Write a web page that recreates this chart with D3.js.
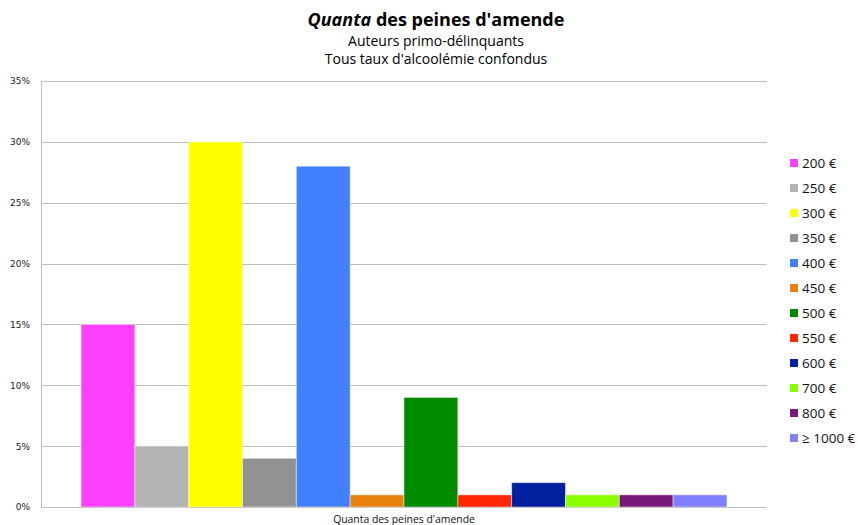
<!DOCTYPE html>
<html><head><meta charset="utf-8">
<script src="https://cdn.jsdelivr.net/npm/d3@7"></script>
<style>body{margin:0;background:#fff}svg{display:block}</style>
</head><body>
<script>
const categories = ["200 €","250 €","300 €","350 €","400 €","450 €","500 €","550 €","600 €","700 €","800 €","≥ 1000 €"];
const values = [15,5,30,4,28,1,9,1,2,1,1,1];
const colors = ["#ff40ff","#b3b3b3","#ffff00","#929292","#4280ff","#e8820c","#008a00","#ff2600","#00209f","#8aff00","#7a1a78","#8080ff"];
const yTicks = [0,5,10,15,20,25,30,35];
const groupLabel = "Quanta des peines d'amende";

const W=858,H=525;
const svg=d3.select("body").append("svg").attr("width",W).attr("height",H);
const m={l:41,r:767,t:81,b:507};
const y=d3.scaleLinear().domain([0,35]).range([m.b,m.t]);
const x0=d3.scaleBand().domain([groupLabel]).range([m.l,m.r]).paddingInner(0).paddingOuter(0.062);
const x=d3.scaleBand().domain(categories).range([x0(groupLabel),x0(groupLabel)+x0.bandwidth()]).padding(0);

// gridlines
svg.append("g").selectAll("line").data(yTicks).join("line")
 .attr("x1",m.l).attr("x2",m.r).attr("y1",d=>Math.round(y(d))+0.5).attr("y2",d=>Math.round(y(d))+0.5)
 .attr("stroke","#bdbdbd").attr("stroke-width",1);
svg.append("line").attr("x1",m.l+0.5).attr("x2",m.l+0.5).attr("y1",m.t).attr("y2",m.b).attr("stroke","#bdbdbd");

// y axis labels
const ya=d3.axisLeft(y).tickValues(yTicks).tickFormat(d=>d+"%").tickSize(0).tickPadding(11);
const gy=svg.append("g").attr("transform",`translate(${m.l},0)`).call(ya);
gy.select(".domain").remove();
gy.selectAll("text").attr("font-family","DejaVu Sans").attr("font-size",9).attr("fill","#222");

// bars
svg.append("g").selectAll("rect").data(categories).join("rect")
 .attr("x",d=>x(d)).attr("width",x.bandwidth())
 .attr("y",(d,i)=>y(values[i])).attr("height",(d,i)=>y(0)-y(values[i]))
 .attr("fill",(d,i)=>colors[i]).attr("stroke","rgba(255,255,255,0.45)").attr("stroke-width",1);

// x label
svg.append("text").attr("x",x0(groupLabel)+x0.bandwidth()/2).attr("y",523).attr("text-anchor","middle")
 .attr("font-family","Open Sans").attr("font-size",10.4).attr("fill","#111").text(groupLabel);

// title
const cx=436;
const t=svg.append("text").attr("x",cx).attr("y",26).attr("text-anchor","middle")
 .attr("font-family","Open Sans").attr("font-size",18).attr("font-weight","bold").attr("fill","#000");
t.append("tspan").attr("font-style","italic").text("Quanta");
t.append("tspan").text(" des peines d'amende");
svg.append("text").attr("x",cx).attr("y",46).attr("text-anchor","middle").attr("font-family","Open Sans").attr("font-size",14).text("Auteurs primo-délinquants");
svg.append("text").attr("x",cx).attr("y",64).attr("text-anchor","middle").attr("font-family","Open Sans").attr("font-size",14).text("Tous taux d'alcoolémie confondus");

// legend
const lg=svg.append("g").selectAll("g").data(categories).join("g")
 .attr("transform",(d,i)=>`translate(790,${163+i*25})`);
lg.append("rect").attr("x",0).attr("y",-4).attr("width",8).attr("height",8).attr("fill",(d,i)=>colors[i]);
lg.append("text").attr("x",12).attr("y",4.5).attr("font-family","Open Sans").attr("font-size",13.5).attr("fill","#111").text(d=>d);
</script>
</body></html>
